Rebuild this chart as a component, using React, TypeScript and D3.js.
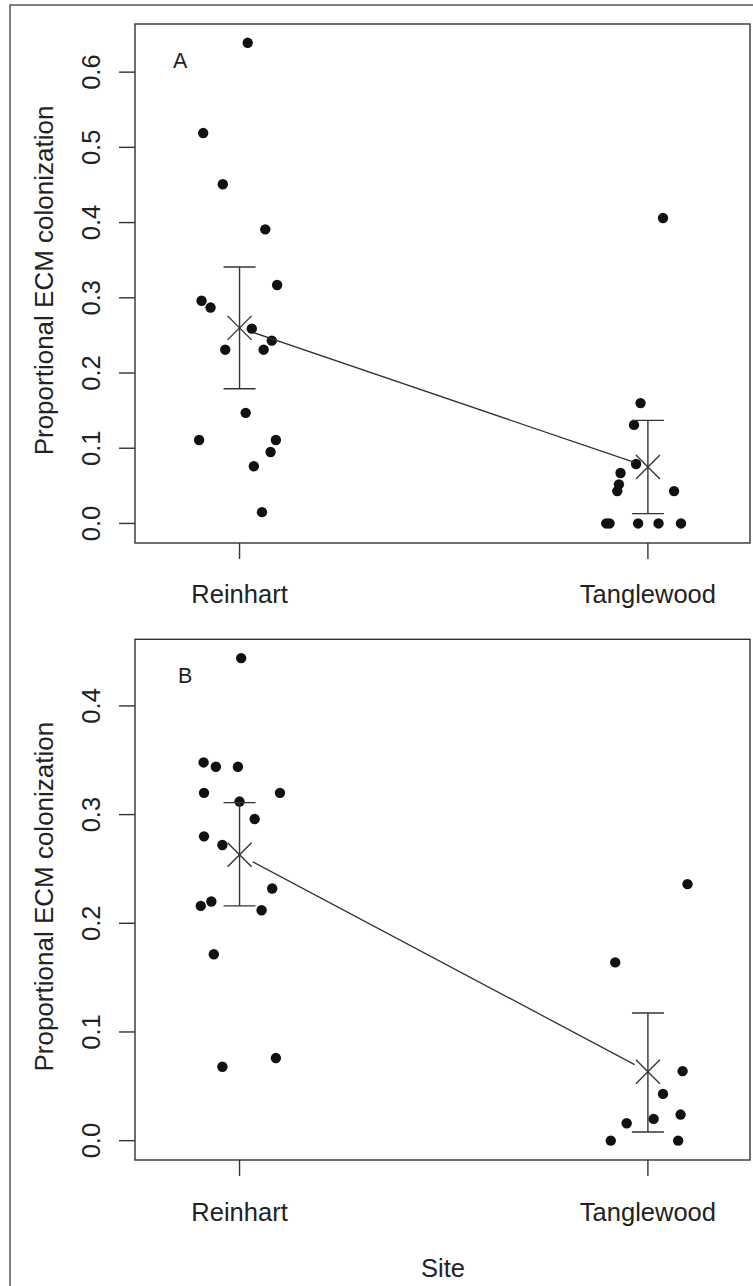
import React from "react";
import * as d3 from "d3";

// ---- Data ----
const sites = ["Reinhart", "Tanglewood"];

// Panel A: raw observations (value, jitter offset in category units)
const aReinhartValues = [0.639, 0.519, 0.451, 0.391, 0.317, 0.296, 0.287, 0.259, 0.243, 0.231, 0.231, 0.147, 0.111, 0.111, 0.095, 0.076, 0.015];
const aReinhartJitter = [0.020, -0.089, -0.041, 0.063, 0.092, -0.093, -0.071, 0.030, 0.079, -0.035, 0.059, 0.015, -0.099, 0.089, 0.076, 0.035, 0.055];
const aTangleValues = [0.406, 0.160, 0.131, 0.079, 0.067, 0.052, 0.043, 0.043, 0, 0, 0, 0, 0];
const aTangleJitter = [0.037, -0.018, -0.034, -0.029, -0.067, -0.071, -0.075, 0.064, -0.102, -0.094, -0.024, 0.026, 0.081];
const aMeans = [0.260, 0.075];
const aLower = [0.179, 0.013];
const aUpper = [0.341, 0.137];
const aTicks = [0.0, 0.1, 0.2, 0.3, 0.4, 0.5, 0.6];

// Panel B
const bReinhartValues = [0.444, 0.348, 0.344, 0.344, 0.320, 0.320, 0.312, 0.296, 0.280, 0.272, 0.232, 0.220, 0.216, 0.212, 0.1715, 0.068, 0.076];
const bReinhartJitter = [0.004, -0.088, -0.058, -0.004, -0.087, 0.099, 0.000, 0.037, -0.087, -0.042, 0.080, -0.069, -0.095, 0.054, -0.063, -0.042, 0.089];
const bTangleValues = [0.236, 0.164, 0.064, 0.043, 0.024, 0.020, 0.016, 0, 0];
const bTangleJitter = [0.097, -0.080, 0.085, 0.037, 0.080, 0.014, -0.052, -0.091, 0.074];
const bMeans = [0.263, 0.0635];
const bLower = [0.216, 0.008];
const bUpper = [0.311, 0.1175];
const bTicks = [0.0, 0.1, 0.2, 0.3, 0.4];

const yLabel = "Proportional ECM colonization";
const xLabel = "Site";

const FONT = "'Liberation Sans', Arial, Helvetica, sans-serif";
const TXT = "#222";
const LINE = "#333";

type PanelProps = {
  letter: string;
  top: number;
  bottom: number;
  domain: [number, number];
  ticks: number[];
  groups: { values: number[]; jitter: number[] }[];
  means: number[];
  lower: number[];
  upper: number[];
  letterX: number;
  labelBaseline: number;
};

const LEFT = 135;
const RIGHT = 750;

function Panel(p: PanelProps) {
  const x = d3.scaleLinear().domain([0.744, 2.25]).range([LEFT, RIGHT]);
  const y = d3.scaleLinear().domain(p.domain).range([p.bottom, p.top]);
  const fmt = d3.format(".1f");
  const mid = (p.top + p.bottom) / 2 - 3;
  const xs = [1, 2];
  const gap = 15;
  const x1 = x(xs[0]), y1 = y(p.means[0]), x2 = x(xs[1]), y2 = y(p.means[1]);
  const len = Math.hypot(x2 - x1, y2 - y1);
  const ux = (x2 - x1) / len, uy = (y2 - y1) / len;
  const xSize = 12;
  const cap = 16;
  return (
    <g>
      {/* box */}
      <rect x={LEFT} y={p.top} width={RIGHT - LEFT} height={p.bottom - p.top} fill="none" stroke={LINE} strokeWidth={1.4} />
      {/* y ticks */}
      {p.ticks.map((t) => (
        <g key={t}>
          <line x1={LEFT - 16} x2={LEFT} y1={y(t)} y2={y(t)} stroke={LINE} strokeWidth={1.4} />
          <text transform={`translate(100,${y(t)}) rotate(-90)`} textAnchor="middle" fontSize={25.5} fontFamily={FONT} fill={TXT}>
            {fmt(t)}
          </text>
        </g>
      ))}
      {/* x ticks */}
      {sites.map((s, i) => (
        <g key={s}>
          <line x1={x(xs[i])} x2={x(xs[i])} y1={p.bottom} y2={p.bottom + 16} stroke={LINE} strokeWidth={1.4} />
          <text x={x(xs[i])} y={p.labelBaseline} textAnchor="middle" fontSize={25.5} fontFamily={FONT} fill={TXT}>
            {s}
          </text>
        </g>
      ))}
      {/* y label */}
      <text transform={`translate(53,${mid}) rotate(-90)`} textAnchor="middle" fontSize={26} fontFamily={FONT} fill={TXT}>
        {yLabel}
      </text>
      {/* panel letter */}
      <text x={p.letterX} y={y(p.domain[1]) + 44} fontSize={21.5} fontFamily={FONT} fill={TXT}>
        {p.letter}
      </text>
      {/* points */}
      {p.groups.map((g, gi) =>
        g.values.map((v, k) => (
          <circle key={`${gi}-${k}`} cx={x(xs[gi] + g.jitter[k])} cy={y(v)} r={5.2} fill="#111" />
        ))
      )}
      {/* error bars */}
      {xs.map((xv, i) => (
        <g key={`e${i}`} stroke={LINE} strokeWidth={1.4}>
          <line x1={x(xv)} x2={x(xv)} y1={y(p.lower[i])} y2={y(p.upper[i])} />
          <line x1={x(xv) - cap} x2={x(xv) + cap} y1={y(p.upper[i])} y2={y(p.upper[i])} />
          <line x1={x(xv) - cap} x2={x(xv) + cap} y1={y(p.lower[i])} y2={y(p.lower[i])} />
          <line x1={x(xv) - xSize} x2={x(xv) + xSize} y1={y(p.means[i]) - xSize} y2={y(p.means[i]) + xSize} />
          <line x1={x(xv) - xSize} x2={x(xv) + xSize} y1={y(p.means[i]) + xSize} y2={y(p.means[i]) - xSize} />
        </g>
      ))}
      {/* connecting line */}
      <line x1={x1 + ux * gap} y1={y1 + uy * gap} x2={x2 - ux * gap} y2={y2 - uy * gap} stroke={LINE} strokeWidth={1.3} />
    </g>
  );
}

export default function App() {
  return (
    <svg width={753} height={1286} style={{ position: "absolute", left: 0, top: 0, background: "#fff" }}>
      <rect x={0} y={0} width={753} height={1286} fill="#fff" />
      <path d="M10,1286 L10,5 L753,5" fill="none" stroke="#555" strokeWidth={1.5} />
      <Panel
        letter="A"
        top={24}
        bottom={543}
        domain={[-0.026, 0.664]}
        ticks={aTicks}
        groups={[
          { values: aReinhartValues, jitter: aReinhartJitter },
          { values: aTangleValues, jitter: aTangleJitter },
        ]}
        means={aMeans}
        lower={aLower}
        upper={aUpper}
        letterX={173}
        labelBaseline={603}
      />
      <Panel
        letter="B"
        top={639.3}
        bottom={1160}
        domain={[-0.0178, 0.4613]}
        ticks={bTicks}
        groups={[
          { values: bReinhartValues, jitter: bReinhartJitter },
          { values: bTangleValues, jitter: bTangleJitter },
        ]}
        means={bMeans}
        lower={bLower}
        upper={bUpper}
        letterX={178}
        labelBaseline={1220.5}
      />
      <text x={443} y={1276.5} textAnchor="middle" fontSize={25.5} fontFamily={FONT} fill={TXT}>
        {xLabel}
      </text>
    </svg>
  );
}
